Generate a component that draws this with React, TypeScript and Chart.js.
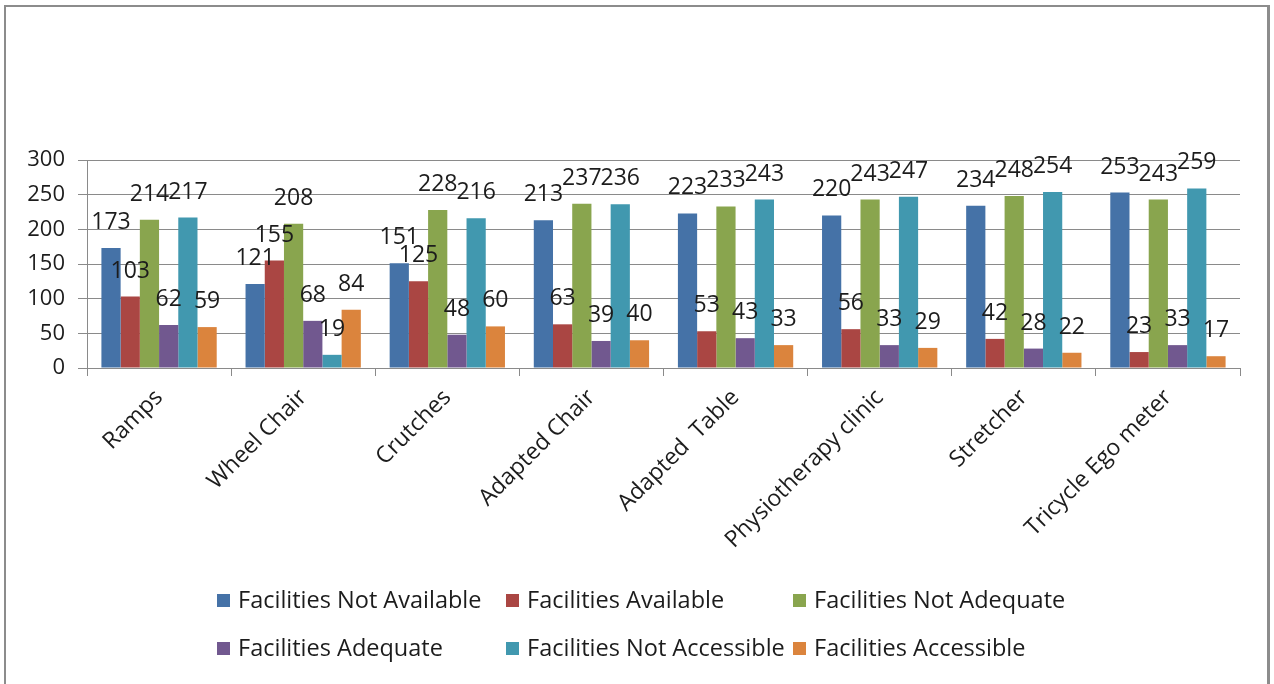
import React, { useEffect, useRef } from "react";
import { Chart, registerables } from "chart.js";

Chart.register(...registerables);

const categories = [
  "Ramps",
  "Wheel Chair",
  "Crutches",
  "Adapted Chair",
  "Adapted  Table",
  "Physiotherapy clinic",
  "Stretcher",
  "Tricycle Ego meter",
];

const seriesNames = [
  "Facilities Not Available",
  "Facilities Available",
  "Facilities Not Adequate",
  "Facilities Adequate",
  "Facilities Not Accessible",
  "Facilities Accessible",
];

const notAvailable = [173, 121, 151, 213, 223, 220, 234, 253];
const available = [103, 155, 125, 63, 53, 56, 42, 23];
const notAdequate = [214, 208, 228, 237, 233, 243, 248, 243];
const adequate = [62, 68, 48, 39, 43, 33, 28, 33];
const notAccessible = [217, 19, 216, 236, 243, 247, 254, 259];
const accessible = [59, 84, 60, 40, 33, 29, 22, 17];

const yTicks = [0, 50, 100, 150, 200, 250, 300];

const palette = ["#4572A7", "#AA4643", "#89A54E", "#71588F", "#4198AF", "#DB843D"];

const FONT = "'Open Sans', 'DejaVu Sans', sans-serif";
const GRID = "#8a8a8a";
const TEXT = "#1c1c1c";

// Value labels placed above each bar
const valueLabels = {
  id: "valueLabels",
  afterDatasetsDraw(chart: any) {
    const ctx = chart.ctx;
    ctx.save();
    ctx.font = `23px ${FONT}`;
    ctx.fillStyle = TEXT;
    ctx.textAlign = "center";
    ctx.textBaseline = "alphabetic";
    chart.data.datasets.forEach((ds: any, i: number) => {
      const meta = chart.getDatasetMeta(i);
      meta.data.forEach((bar: any, j: number) => {
        ctx.fillText(String(ds.data[j]), bar.x, bar.y - 19);
      });
    });
    ctx.restore();
  },
};

// Three-column legend under the rotated category labels
const gridLegend = {
  id: "gridLegend",
  afterDraw(chart: any) {
    const ctx = chart.ctx;
    const cols = [217, 506, 793];
    const rows = [601, 649];
    ctx.save();
    ctx.font = `23.5px ${FONT}`;
    ctx.textBaseline = "middle";
    ctx.textAlign = "left";
    chart.data.datasets.forEach((ds: any, i: number) => {
      const x = cols[i % 3];
      const y = rows[Math.floor(i / 3)];
      ctx.fillStyle = ds.backgroundColor;
      ctx.fillRect(x, y - 7, 13, 13);
      ctx.fillStyle = TEXT;
      ctx.fillText(ds.label, x + 21, y);
    });
    ctx.restore();
  },
};

export default function App() {
  const canvasRef = useRef<HTMLCanvasElement | null>(null);

  useEffect(() => {
    const canvas = canvasRef.current;
    if (!canvas) return;
    const values = [notAvailable, available, notAdequate, adequate, notAccessible, accessible];
    const chart = new Chart(canvas, {
      type: "bar",
      data: {
        labels: categories,
        datasets: values.map((data, i) => ({
          label: seriesNames[i],
          data,
          backgroundColor: palette[i],
          borderWidth: 0,
          categoryPercentage: 0.8,
          barPercentage: 1.0,
        })),
      },
      options: {
        responsive: false,
        animation: false,
        devicePixelRatio: 1,
        layout: { padding: { left: 0, top: 160, right: 34, bottom: 0 } },
        plugins: {
          legend: { display: false },
          tooltip: { enabled: false },
        },
        scales: {
          x: {
            offset: true,
            grid: {
              display: true,
              offset: true,
              drawOnChartArea: false,
              drawTicks: true,
              tickLength: 8,
              color: GRID,
            },
            border: { display: true, color: GRID },
            ticks: {
              autoSkip: false,
              minRotation: 45,
              maxRotation: 45,
              padding: 8,
              color: TEXT,
              font: { family: FONT, size: 23 },
            },
            afterFit(scale: any) {
              scale.height = 684 - 368;
            },
          },
          y: {
            min: 0,
            max: 300,
            afterBuildTicks(scale: any) {
              scale.ticks = yTicks.map((v) => ({ value: v }));
            },
            grid: {
              color: GRID,
              drawTicks: true,
              tickLength: 9,
            },
            border: { display: true, color: GRID },
            ticks: {
              padding: 13,
              color: TEXT,
              font: { family: FONT, size: 22 },
            },
            afterFit(scale: any) {
              scale.width = 87;
            },
          },
        },
      },
      plugins: [valueLabels, gridLegend],
    });
    return () => chart.destroy();
  }, []);

  return (
    <div
      style={{
        position: "fixed",
        left: 0,
        top: 0,
        width: 1274,
        height: 684,
        overflow: "hidden",
        background: "#fff",
      }}
    >
      <div
        style={{
          position: "absolute",
          left: 4,
          top: 5,
          width: 1261,
          height: 700,
          borderTop: "2px solid #8c8c8c",
          borderLeft: "2px solid #8c8c8c",
          borderRight: "3px solid #8c8c8c",
        }}
      />
      <canvas
        ref={canvasRef}
        width={1274}
        height={684}
        style={{ position: "absolute", left: 0, top: 0, width: 1274, height: 684 }}
      />
    </div>
  );
}
